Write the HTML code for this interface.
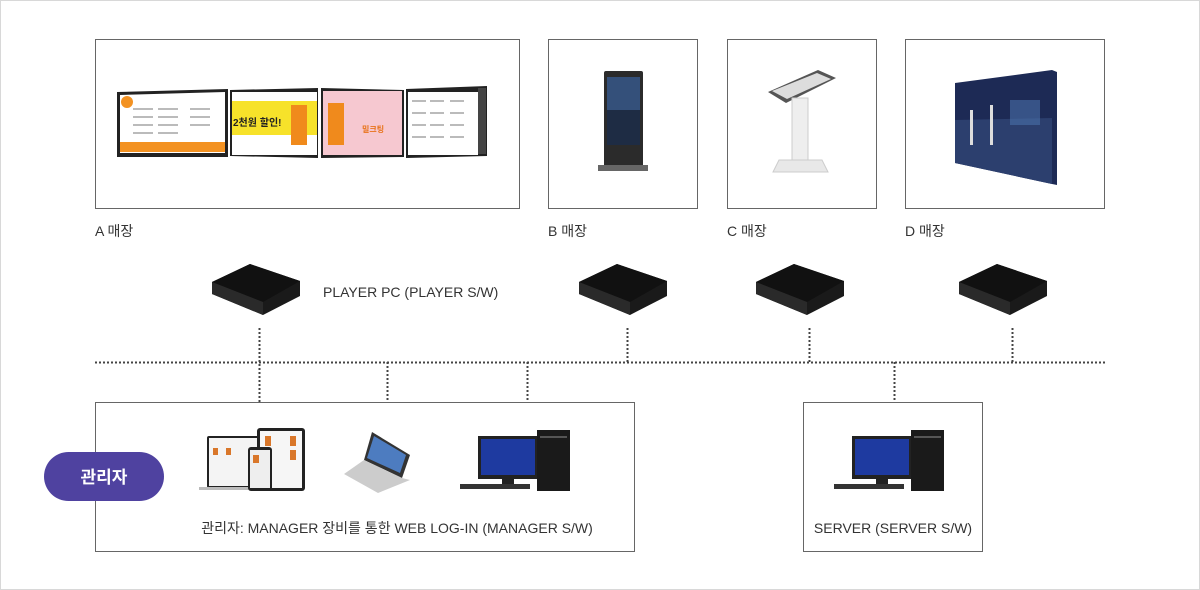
<!DOCTYPE html>
<html><head><meta charset="utf-8"><style>
html,body{margin:0;padding:0;background:#fff;}
svg{display:block}
text{font-family:"Liberation Sans","Noto Sans CJK KR",sans-serif;}
</style></head><body>
<svg width="1200" height="590" viewBox="0 0 1200 590" xmlns="http://www.w3.org/2000/svg">
<rect x="0.5" y="0.5" width="1199" height="589" fill="#fff" stroke="#d8d8d8"/>
<g fill="none" stroke="#666" stroke-width="1">
<rect x="95.5" y="39.5" width="424" height="169"/>
<rect x="548.5" y="39.5" width="149" height="169"/>
<rect x="727.5" y="39.5" width="149" height="169"/>
<rect x="905.5" y="39.5" width="199" height="169"/>
<rect x="95.5" y="402.5" width="539" height="149"/>
<rect x="803.5" y="402.5" width="179" height="149"/>
</g>
<g>
<polygon points="117,92 228,89 228,157 117,157" fill="#222"/>
<polygon points="120,95 225,92 225,153 120,153" fill="#fff"/>
<rect x="120" y="142" width="105" height="10" fill="#f39222"/>
<circle cx="127" cy="102" r="6" fill="#f39222"/>
<g fill="#bbb"><rect x="133" y="108" width="20" height="2"/><rect x="158" y="108" width="20" height="2"/><rect x="190" y="108" width="20" height="2"/><rect x="133" y="116" width="20" height="2"/><rect x="158" y="116" width="20" height="2"/><rect x="190" y="116" width="20" height="2"/><rect x="133" y="124" width="20" height="2"/><rect x="158" y="124" width="20" height="2"/><rect x="190" y="124" width="20" height="2"/><rect x="133" y="132" width="20" height="2"/><rect x="158" y="132" width="20" height="2"/></g>
<polygon points="230,90 318,88 318,158 230,156" fill="#222"/>
<rect x="232" y="92" width="85" height="63" fill="#fff"/>
<rect x="232" y="101" width="85" height="34" fill="#f7e22a"/>
<text x="233" y="126" font-size="10" font-weight="bold" fill="#222">2천원 할인!</text>
<rect x="291" y="105" width="16" height="40" fill="#f08a1c"/>
<polygon points="321,88 404,90 404,157 321,158" fill="#222"/>
<rect x="323" y="91" width="79" height="64" fill="#f6c8d0"/>
<rect x="328" y="103" width="16" height="42" fill="#f08a1c"/>
<text x="362" y="132" font-size="8" fill="#e8731a" font-weight="bold">밀크팅</text>
<polygon points="406,89 487,86 487,156 406,158" fill="#222"/>
<rect x="408" y="92" width="70" height="63" fill="#fff"/>
<rect x="478" y="88" width="8" height="66" fill="#444"/>
<g fill="#bbb"><rect x="412" y="100" width="14" height="2"/><rect x="430" y="100" width="14" height="2"/><rect x="450" y="100" width="14" height="2"/><rect x="412" y="112" width="14" height="2"/><rect x="430" y="112" width="14" height="2"/><rect x="450" y="112" width="14" height="2"/><rect x="412" y="124" width="14" height="2"/><rect x="430" y="124" width="14" height="2"/><rect x="450" y="124" width="14" height="2"/><rect x="412" y="136" width="14" height="2"/><rect x="430" y="136" width="14" height="2"/><rect x="450" y="136" width="14" height="2"/></g>
</g>
<rect x="604" y="71" width="39" height="97" rx="2" fill="#2b2b2b"/>
<rect x="607" y="77" width="33" height="68" fill="#34507a"/>
<rect x="607" y="110" width="33" height="35" fill="#1e2c44"/>
<rect x="598" y="165" width="50" height="6" fill="#666"/>
<polygon points="768,92 818,70 836,78 786,103" fill="#555"/>
<polygon points="772,91 817,73 831,79 787,99" fill="#ddd"/>
<rect x="792" y="98" width="16" height="62" fill="#eee" stroke="#ccc"/>
<polygon points="779,160 822,160 828,172 773,172" fill="#e8e8e8" stroke="#ccc"/>
<polygon points="955,83 1052,70 1057,72 1057,185 1052,184 955,163" fill="#1d2a55"/>
<polygon points="955,120 1052,118 1052,184 955,163" fill="#2c3f6e"/>
<rect x="970" y="110" width="3" height="35" fill="#ddd"/>
<rect x="990" y="105" width="3" height="40" fill="#ddd"/>
<rect x="1010" y="100" width="30" height="25" fill="#4a6fa8" opacity=".6"/>
<g font-size="14" fill="#333">
<text x="95" y="236">A 매장</text>
<text x="548" y="236">B 매장</text>
<text x="727" y="236">C 매장</text>
<text x="905" y="236">D 매장</text>
<text x="323" y="297">PLAYER PC (PLAYER S/W)</text>
</g>
<g id="pc">
<polygon points="212,282 250,264 300,281 300,296 263,315 212,294" fill="#1a1a1a"/>
<polygon points="212,282 250,264 300,281 263,302" fill="#111"/>
<polygon points="212,282 263,302 263,315 212,294" fill="#2a2a2a"/>
</g>
<use href="#pc" transform="translate(367,0)"/>
<use href="#pc" transform="translate(544,0)"/>
<use href="#pc" transform="translate(747,0)"/>
<g stroke="#444" stroke-width="2" stroke-dasharray="2,2" fill="none">
<line x1="95" y1="362.5" x2="1105" y2="362.5"/>
<line x1="259.5" y1="328" x2="259.5" y2="402"/>
<line x1="627.5" y1="328" x2="627.5" y2="362"/>
<line x1="809.5" y1="328" x2="809.5" y2="362"/>
<line x1="1012.5" y1="328" x2="1012.5" y2="362"/>
<line x1="387.5" y1="362" x2="387.5" y2="402"/>
<line x1="527.5" y1="362" x2="527.5" y2="402"/>
<line x1="894.5" y1="362" x2="894.5" y2="402"/>
</g>
<rect x="44" y="452" width="120" height="49" rx="24.5" fill="#4f42a0"/>
<text x="104" y="483" font-size="17" fill="#fff" text-anchor="middle" font-weight="bold">관리자</text>
<rect x="207" y="436" width="52" height="52" rx="2" fill="#222"/>
<rect x="209" y="438" width="48" height="48" fill="#f4f4f4"/>
<rect x="199" y="487" width="66" height="3" fill="#bbb"/>
<rect x="257" y="428" width="48" height="63" rx="3" fill="#222"/>
<rect x="260" y="431" width="42" height="57" fill="#f6f6f6"/>
<rect x="248" y="447" width="24" height="44" rx="3" fill="#222"/>
<rect x="250" y="450" width="20" height="38" fill="#eee"/>
<g fill="#d9772a"><rect x="213" y="448" width="5" height="7"/><rect x="226" y="448" width="5" height="7"/><rect x="265" y="436" width="6" height="10"/><rect x="290" y="436" width="6" height="10"/><rect x="290" y="450" width="6" height="10"/><rect x="253" y="455" width="6" height="8"/></g>
<polygon points="372,432 410,455 402,478 364,460" fill="#333"/>
<polygon points="374,436 406,455 400,473 367,458" fill="#4d7cc0"/>
<polygon points="344,474 364,460 402,478 410,480 378,493" fill="#ccc"/>
<g id="desk">
<rect x="478" y="436" width="60" height="43" fill="#222"/>
<rect x="481" y="439" width="54" height="36" fill="#1e3aa0"/>
<rect x="502" y="479" width="12" height="6" fill="#222"/>
<rect x="537" y="430" width="33" height="61" fill="#1a1a1a"/>
<rect x="540" y="436" width="27" height="2" fill="#555"/>
<rect x="460" y="484" width="70" height="5" fill="#333"/>
</g>
<use href="#desk" transform="translate(374,0)"/>
<text x="397" y="533" font-size="14" fill="#333" text-anchor="middle">관리자: MANAGER 장비를 통한 WEB LOG-IN (MANAGER S/W)</text>
<text x="893" y="533" font-size="14" fill="#333" text-anchor="middle">SERVER (SERVER S/W)</text>
</svg>
</body></html>
